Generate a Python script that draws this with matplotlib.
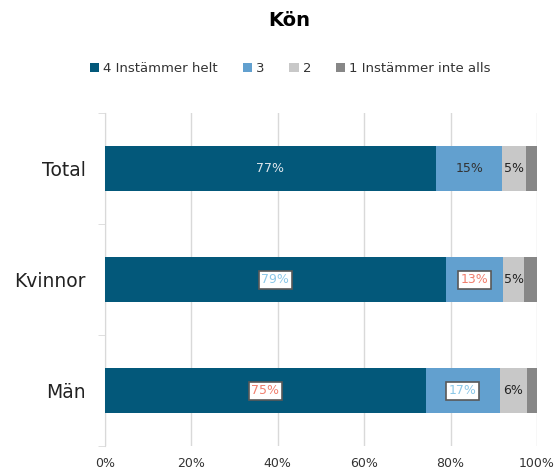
import matplotlib
matplotlib.use("Agg")
import matplotlib.pyplot as plt
import numpy as np

categories = ["Total", "Kvinnor", "Män"]
series_names = ["4 Instämmer helt", "3", "2", "1 Instämmer inte alls"]
s4 = [76.6, 78.9, 74.3]
s3 = [15.4, 13.3, 17.1]
s2 = [5.4, 4.9, 6.3]
s1 = [2.6, 2.9, 2.3]
labels4 = ["77%", "79%", "75%"]
labels3 = ["15%", "13%", "17%"]
labels2 = ["5%", "5%", "6%"]
xticks = [0, 20, 40, 60, 80, 100]

colors = ["#03587A", "#62A0CF", "#C8C8C8", "#878787"]

fig = plt.figure(figsize=(5.56, 4.75), dpi=100)
ax = fig.add_axes([105/556, 29/475, 432/556, 333/475])

y = np.arange(len(categories))
left = np.zeros(len(categories))
bars = []
for vals, c, name in zip([s4, s3, s2, s1], colors, series_names):
    b = ax.barh(y, vals, left=left, height=0.4, color=c, label=name, zorder=3)
    bars.append(b)
    left = left + np.array(vals)

ax.set_xlim(0, 100)
ax.set_ylim(2.5, -0.5)
ax.set_yticks(y)
ax.set_yticklabels(categories, fontsize=13.5, color="#222222")
ax.set_yticks([-0.5, 0.5, 1.5, 2.5], minor=True)
ax.tick_params(axis="y", which="major", length=0, pad=14)
ax.tick_params(axis="y", which="minor", length=5, color="#D9D9D9")
ax.set_xticks(xticks)
ax.set_xticklabels([f"{t}%" for t in xticks], fontsize=9, color="#333333")
ax.tick_params(axis="x", length=0, pad=8)
ax.grid(axis="x", color="#D9D9D9", linewidth=1, zorder=0)
for s in ["top", "right", "bottom"]:
    ax.spines[s].set_visible(False)
ax.spines["left"].set_color("#D9D9D9")

# Data labels
box = dict(boxstyle="square,pad=0.2", facecolor="white", edgecolor="#595959", linewidth=1.2)
fs = 9
l4_styles = [
    dict(color="#DDE6EC"),
    dict(color="#8CC8E8", bbox=box),
    dict(color="#F07F6E", bbox=box),
]
for i in range(3):
    ax.text(s4[i] / 2, y[i], labels4[i], ha="center", va="center", fontsize=fs, zorder=5, **l4_styles[i])
l3_styles = [
    dict(color="#333333"),
    dict(color="#F07F6E", bbox=box),
    dict(color="#8CC8E8", bbox=box),
]
for i in range(3):
    ax.text(s4[i] + s3[i] / 2, y[i], labels3[i], ha="center", va="center", fontsize=fs, zorder=5, **l3_styles[i])
for i in range(3):
    ax.text(s4[i] + s3[i] + s2[i] / 2, y[i], labels2[i], ha="center", va="center", fontsize=fs, color="#222222", zorder=5)

fig.text(0.521, 0.956, "Kön", ha="center", va="center", fontsize=14, fontweight="bold")
fig.legend(handles=bars, labels=series_names, loc="center", bbox_to_anchor=(0.522, 0.855), ncol=4,
           frameon=False, fontsize=9.5, handlelength=0.7, handleheight=0.7, handletextpad=0.3,
           columnspacing=1.9, labelcolor="#333333")

fig.savefig("out.png", dpi=100)
